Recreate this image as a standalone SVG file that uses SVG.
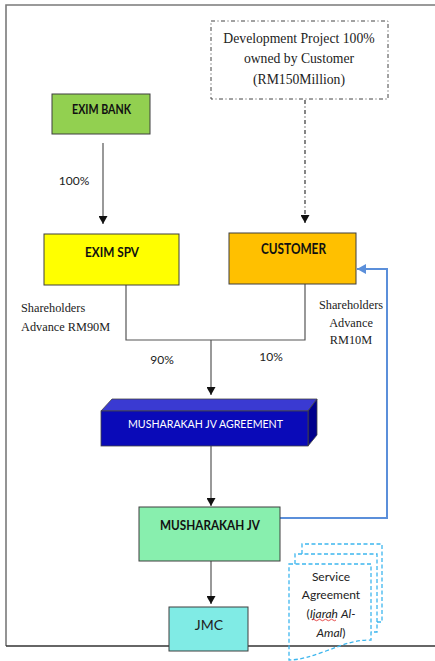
<svg xmlns="http://www.w3.org/2000/svg" width="435" height="661" viewBox="0 0 435 661">
<style>
.box{stroke:#3f3f3f;stroke-width:1}
.cal{font-family:Lato,"Open Sans","Liberation Sans",sans-serif}
.ser{font-family:"Liberation Serif","Times New Roman",serif;fill:#222}
.b{font-weight:bold;fill:#111}
.ln{stroke:#555;stroke-width:1.2;fill:none}
.doc{stroke:#3db6ee;stroke-width:1.3;stroke-dasharray:4 2.5;fill:none}
</style>
<defs>
<marker id="ah" markerWidth="8" markerHeight="9" refX="8" refY="4.5" orient="auto" markerUnits="userSpaceOnUse">
<path d="M0,0 L8,4.5 L0,9 Z" fill="#111"/>
</marker>
<marker id="ahb" markerWidth="9" markerHeight="10" refX="9" refY="5" orient="auto" markerUnits="userSpaceOnUse">
<path d="M0,0 L9,5 L0,10 Z" fill="#5b8fda"/>
</marker>
</defs>
<rect width="435" height="661" fill="#fff"/>
<g id="frame">
<path d="M435,5 H6 V646" fill="none" stroke="#7a7a7a" stroke-width="1.6"/>
<path d="M6,646 H435" fill="none" stroke="#333" stroke-width="1.5"/>
</g>
<g id="connectors">
<line x1="103" y1="143" x2="103" y2="224" class="ln" marker-end="url(#ah)"/>
<line x1="305" y1="100" x2="305" y2="223" stroke="#333" stroke-width="1.2" stroke-dasharray="4 2.5 1 2.5" marker-end="url(#ah)"/>
<path d="M126,285 V340 H305 V284" class="ln"/>
<line x1="211" y1="340" x2="211" y2="395" class="ln" marker-end="url(#ah)"/>
<line x1="211" y1="446" x2="211" y2="506" class="ln" marker-end="url(#ah)"/>
<line x1="211" y1="561" x2="211" y2="604" class="ln" marker-end="url(#ah)"/>
<path d="M280,518 H387 V269 H357" fill="none" stroke="#5b8fda" stroke-width="2" marker-end="url(#ahb)"/>
</g>
<g id="project">
<rect x="211" y="21" width="177" height="78" fill="#fff" stroke="#444" stroke-width="1" stroke-dasharray="4 2.5 1 2.5"/>
<text class="ser" font-size="13.7" text-anchor="middle" x="299" y="43">Development Project 100%</text>
<text class="ser" font-size="13.7" text-anchor="middle" x="299" y="63">owned by Customer</text>
<text class="ser" font-size="13.7" text-anchor="middle" x="299" y="84">(RM150Million)</text>
</g>
<g id="exim-bank">
<rect class="box" x="52" y="94" width="98" height="40" fill="#92d050"/>
<text class="cal b" font-size="13" text-anchor="middle" x="101.5" y="114" textLength="59" lengthAdjust="spacingAndGlyphs">EXIM BANK</text>
</g>
<g id="exim-spv">
<rect class="box" x="44" y="234" width="135" height="51" fill="#ffff00"/>
<text class="cal b" font-size="14" text-anchor="middle" x="112" y="256.5" textLength="54" lengthAdjust="spacingAndGlyphs">EXIM SPV</text>
</g>
<g id="customer">
<rect class="box" x="229" y="233" width="127" height="51" fill="#ffc000"/>
<text class="cal b" font-size="14.5" text-anchor="middle" x="293.5" y="253.5" textLength="65" lengthAdjust="spacingAndGlyphs">CUSTOMER</text>
</g>
<g id="labels">
<text class="cal" font-size="12" fill="#222" text-anchor="middle" x="74" y="185">100%</text>
<text class="ser" font-size="12.3" x="21" y="312">Shareholders</text>
<text class="ser" font-size="12.3" x="21" y="331">Advance RM90M</text>
<text class="cal" font-size="12" fill="#222" text-anchor="middle" x="162" y="364">90%</text>
<text class="cal" font-size="12" fill="#222" text-anchor="middle" x="271" y="361">10%</text>
<text class="ser" font-size="12.3" text-anchor="middle" x="351" y="309">Shareholders</text>
<text class="ser" font-size="12.3" text-anchor="middle" x="351" y="327">Advance</text>
<text class="ser" font-size="12.3" text-anchor="middle" x="351" y="344">RM10M</text>
</g>
<g id="agreement">
<polygon points="101,411 112,399 317,399 308,411" fill="#3a3ad2" stroke="#444" stroke-width="0.8"/>
<polygon points="308,411 317,399 317,435 308,446" fill="#00008c" stroke="#444" stroke-width="0.8"/>
<rect x="101" y="411" width="207" height="35" fill="#0a0ab8" stroke="#444" stroke-width="0.8"/>
<text class="cal" font-size="12" fill="#fff" text-anchor="middle" x="205.5" y="427.5" textLength="155" lengthAdjust="spacingAndGlyphs">MUSHARAKAH JV AGREEMENT</text>
</g>
<g id="musharakah-jv">
<rect class="box" x="139" y="507" width="141" height="54" fill="#88efae"/>
<text class="cal b" font-size="14" text-anchor="middle" x="210" y="529.5" textLength="100" lengthAdjust="spacingAndGlyphs">MUSHARAKAH JV</text>
</g>
<g id="jmc">
<rect class="box" x="169" y="607" width="79" height="44" fill="#80ebe5"/>
<text class="cal" font-size="14" fill="#222" text-anchor="middle" x="209" y="630">JMC</text>
</g>
<g id="service-agreement">
<path class="doc" d="M302,554 V544 H382 V622 H377"/>
<path class="doc" d="M295,564 V554 H377 V632 H371"/>
<path class="doc" d="M289,564 H371 V640 C352,640 340,646 326,651 C312,656 300,660 289,660 Z"/>
<text class="cal" font-size="12" fill="#222" text-anchor="middle" x="331" y="581">Service</text>
<text class="cal" font-size="12" fill="#222" text-anchor="middle" x="331" y="599">Agreement</text>
<text class="cal" font-size="12" fill="#222" text-anchor="middle" x="331" y="618">(<tspan font-style="italic">Ijarah</tspan> <tspan font-style="italic">Al-</tspan></text>
<text class="cal" font-size="12" fill="#222" text-anchor="middle" x="331" y="637"><tspan font-style="italic">Amal</tspan>)</text>
<path d="M312,620 q1.5,-1.5 3,0 t3,0 t3,0 t3,0 t3,0 t3,0 t3,0 t3,0" fill="none" stroke="#e02020" stroke-width="0.8"/>
</g>
</svg>
